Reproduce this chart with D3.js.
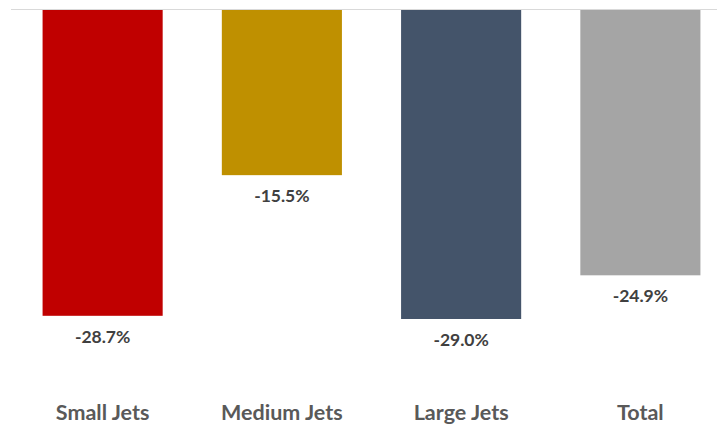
<!DOCTYPE html>
<html>
<head>
<meta charset="utf-8">
<script src="https://cdn.jsdelivr.net/npm/d3@7"></script>
<style>
  body { margin: 0; background: #fff; }
  svg { display: block; }
</style>
</head>
<body>
<svg></svg>
<script>
const categories = ["Small Jets", "Medium Jets", "Large Jets", "Total"];
const values = [-28.7, -15.5, -29.0, -24.9];
const colors = ["#c00000", "#bf9000", "#44546a", "#a5a5a5"];

const width = 717;
const height = 425;
const plotTop = 10;

const svg = d3.select("svg")
    .attr("width", width)
    .attr("height", height);

const x = d3.scaleBand()
    .domain(categories)
    .range([13, 730])
    .paddingInner(0.33)
    .paddingOuter(0.165);

const y = d3.scaleLinear()
    .domain([0, -29.0])
    .range([plotTop, 319]);

svg.selectAll("rect.bar")
    .data(values)
    .enter()
    .append("rect")
    .attr("class", "bar")
    .attr("x", (d, i) => x(categories[i]))
    .attr("y", y(0))
    .attr("width", x.bandwidth())
    .attr("height", d => y(d) - y(0))
    .attr("fill", (d, i) => colors[i]);

// zero line
svg.append("line")
    .attr("x1", 11)
    .attr("x2", width)
    .attr("y1", y(0) - 0.5)
    .attr("y2", y(0) - 0.5)
    .attr("stroke", "#d9d9d9")
    .attr("stroke-width", 1);

svg.selectAll("text.value")
    .data(values)
    .enter()
    .append("text")
    .attr("class", "value")
    .attr("x", (d, i) => x(categories[i]) + x.bandwidth() / 2)
    .attr("y", d => y(d) + 27)
    .attr("text-anchor", "middle")
    .style("font-family", "Lato, 'Open Sans', sans-serif")
    .style("font-weight", "bold")
    .style("font-size", "17.5px")
    .style("fill", "#404040")
    .text(d => d.toFixed(1) + "%");

svg.selectAll("text.cat")
    .data(categories)
    .enter()
    .append("text")
    .attr("class", "cat")
    .attr("x", d => x(d) + x.bandwidth() / 2)
    .attr("y", 420)
    .attr("text-anchor", "middle")
    .style("font-family", "Lato, 'Open Sans', sans-serif")
    .style("font-weight", "bold")
    .style("font-size", "21.5px")
    .style("fill", "#595959")
    .text(d => d);
</script>
</body>
</html>
